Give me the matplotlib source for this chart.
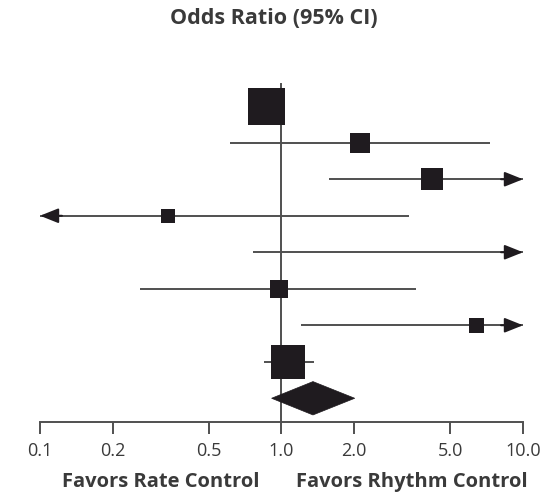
import numpy as np
import matplotlib
matplotlib.use('Agg')
import matplotlib.pyplot as plt
from matplotlib.patches import Polygon
from matplotlib.ticker import NullLocator

# Per-trial odds ratios and 95% CI (nan = point estimate off the plotted scale)
odds_ratio = [0.86, 2.12, 4.2, 0.34, np.nan, 0.98, 6.4, 1.06]
ci_low = [0.76, 0.61, 1.58, 0.04, 0.76, 0.26, 1.2, 0.85]
ci_high = [0.98, 7.3, 14.0, 3.36, 20.0, 3.6, 15.0, 1.36]

# Pooled estimate
pooled_or = 1.35
pooled_low = 0.91
pooled_high = 2.01

tick_values = [0.1, 0.2, 0.5, 1.0, 2.0, 5.0, 10.0]
tick_labels = ['0.1', '0.2', '0.5', '1.0', '2.0', '5.0', '10.0']

# box edge length in pixels (study weight)
box_px = [37, 20, 23, 14, 0, 18, 15, 34]

INK = '#1f1b1f'
LINE = '#505050'
TEXT = '#3a3a3a'
plt.rcParams['font.family'] = ['Open Sans', 'DejaVu Sans']

W, H = 553, 493
fig = plt.figure(figsize=(W / 100, H / 100), dpi=100)
axis_y = 422
ax = fig.add_axes([0, (H - axis_y) / H, 1, axis_y / H])
ax.set_xscale('log')
ax.set_xlim(0.0683, 13.31)
ax.set_ylim(8.65, -2.91)

x_min, x_max = tick_values[0], tick_values[-1]
px_per_decade = 241.5
head_back = 10 ** (22 / px_per_decade)   # shaft piece carried by the arrow head


def arrow_head(tip, y, direction):
    """Black filled head pointing at `tip` (direction +1 right, -1 left)."""
    start = tip / head_back if direction > 0 else tip * head_back
    ax.annotate('', xy=(tip, y), xytext=(start, y),
                arrowprops=dict(arrowstyle='-|>,head_length=0.75,head_width=0.3',
                                mutation_scale=15, lw=1.4, color=INK,
                                shrinkA=0, shrinkB=0), zorder=3)


for i, (est, lo, hi) in enumerate(zip(odds_ratio, ci_low, ci_high)):
    y = i
    lo_c, hi_c = max(lo, x_min), min(hi, x_max)
    ax.plot([lo_c, hi_c], [y, y], color=LINE, lw=1.4,
            solid_capstyle='butt', zorder=2)
    if hi > x_max:
        arrow_head(hi_c, y, +1)
    if lo < x_min:
        arrow_head(lo_c, y, -1)
    if not np.isnan(est):
        ax.plot(est, y, marker='s', markersize=box_px[i] * 0.72,
                color=INK, markeredgewidth=0, zorder=3)

# pooled diamond
yp = len(odds_ratio)
half_h = 0.457
ax.add_patch(Polygon([(pooled_low, yp), (pooled_or, yp - half_h),
                      (pooled_high, yp), (pooled_or, yp + half_h)],
                     closed=True, facecolor=INK, edgecolor=INK, lw=0.5, zorder=3))

# line of no effect
ax.plot([1.0, 1.0], [-0.6, 8.65], color=LINE, lw=1.4, zorder=1, clip_on=False)

for side in ['left', 'right', 'top']:
    ax.spines[side].set_visible(False)
ax.spines['bottom'].set_bounds(x_min, x_max)
ax.spines['bottom'].set_linewidth(1.4)
ax.spines['bottom'].set_color(LINE)
ax.set_yticks([])
ax.set_xticks(tick_values)
ax.set_xticklabels(tick_labels)
ax.xaxis.set_minor_locator(NullLocator())
ax.tick_params(axis='x', direction='out', length=8.5, width=1.4, color=LINE,
               pad=6, labelsize=13, labelcolor=TEXT)

fig.text(273.4 / W, 1 - 18 / H, 'Odds Ratio (95% CI)', ha='center', va='center',
         fontsize=15.5, fontweight='bold', color=TEXT)
fig.text(160.9 / W, 6 / H, 'Favors Rate Control', ha='center', va='baseline',
         fontsize=14.5, fontweight='bold', color=TEXT)
fig.text(411.5 / W, 6 / H, 'Favors Rhythm Control', ha='center', va='baseline',
         fontsize=14.5, fontweight='bold', color=TEXT)

fig.savefig('out.png', dpi=100, facecolor='white')
